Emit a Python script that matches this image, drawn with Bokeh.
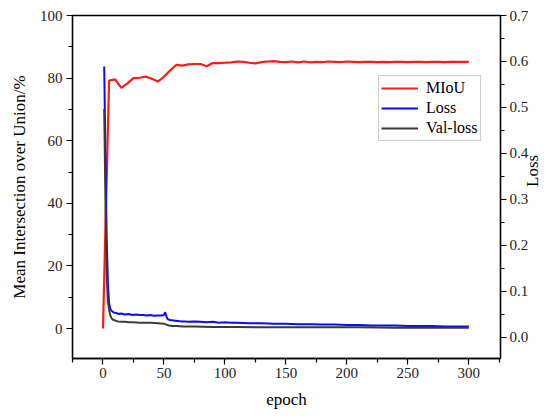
import math
from bokeh.plotting import figure
from bokeh.models import (Range1d, LinearAxis, FixedTicker, PrintfTickFormatter,
                          Legend, LegendItem)
from bokeh.embed import file_html
from bokeh.resources import INLINE

# ---------------- data ----------------
miou_epoch = [0, 5, 10, 15, 20, 25, 30, 35, 40, 45, 50, 55, 60, 65, 70, 75, 80, 85, 90, 95,
              100, 105, 110, 115, 120, 125, 130, 135, 140, 145, 150, 155, 160, 165, 170, 175,
              180, 185, 190, 195, 200, 205, 210, 215, 220, 225, 230, 235, 240, 245, 250, 255,
              260, 265, 270, 275, 280, 285, 290, 295, 300]
miou = [0.0, 79.2, 79.6, 76.9, 78.3, 80.0, 80.1, 80.5, 79.8, 78.9, 80.4, 82.4, 84.2, 84.0,
        84.4, 84.5, 84.5, 83.8, 84.8, 84.8, 84.9, 85.0, 85.3, 85.2, 84.9, 84.7, 85.1, 85.3,
        85.4, 85.2, 85.1, 85.3, 85.0, 85.3, 85.0, 85.2, 85.1, 85.3, 85.2, 85.1, 85.3, 85.2,
        85.1, 85.2, 85.2, 85.1, 85.2, 85.1, 85.2, 85.2, 85.1, 85.2, 85.2, 85.1, 85.2, 85.2,
        85.1, 85.2, 85.2, 85.2, 85.2]

loss_epoch = [1, 2, 3, 4, 5, 6, 7, 8, 9, 11, 13, 15, 18, 21, 24, 27, 30, 33, 36, 39, 42, 45,
              48, 50, 51, 52, 53, 55, 58, 61, 64, 67, 70, 75, 80, 85, 90, 95, 100, 105, 110,
              120, 130, 140, 150, 160, 170, 180, 190, 200, 210, 220, 230, 240, 250, 260, 270,
              280, 290, 300]
loss = [0.589, 0.400, 0.220, 0.120, 0.075, 0.062, 0.058, 0.056, 0.054, 0.053, 0.051, 0.052,
        0.050, 0.051, 0.049, 0.050, 0.049, 0.049, 0.048, 0.049, 0.047, 0.048, 0.048, 0.049,
        0.055, 0.046, 0.040, 0.038, 0.037, 0.036, 0.035, 0.035, 0.034, 0.035, 0.034, 0.033,
        0.034, 0.032, 0.033, 0.032, 0.032, 0.031, 0.031, 0.030, 0.030, 0.029, 0.029, 0.028,
        0.028, 0.027, 0.027, 0.026, 0.026, 0.026, 0.025, 0.025, 0.025, 0.024, 0.024, 0.024]

val_epoch = [1, 2, 3, 4, 5, 6, 7, 8, 10, 12, 15, 18, 21, 25, 30, 35, 40, 45, 50, 52, 54, 57,
             60, 66, 75, 90, 110, 130, 150, 180, 210, 240, 270, 300]
val_loss = [0.497, 0.300, 0.140, 0.080, 0.060, 0.048, 0.042, 0.039, 0.037, 0.035, 0.034,
            0.034, 0.033, 0.033, 0.032, 0.032, 0.032, 0.031, 0.030, 0.028, 0.026, 0.025,
            0.025, 0.024, 0.024, 0.023, 0.023, 0.022, 0.022, 0.022, 0.022, 0.021, 0.021, 0.021]

x_ticks = [0, 50, 100, 150, 200, 250, 300]
x_minor = [-25, 25, 75, 125, 175, 225, 275, 325]
left_ticks = [0, 20, 40, 60, 80, 100]
left_minor = [10, 30, 50, 70, 90]
right_ticks = [0.0, 0.1, 0.2, 0.3, 0.4, 0.5, 0.6, 0.7]
right_minor = [0.05, 0.15, 0.25, 0.35, 0.45, 0.55, 0.65]

FONT = "Liberation Serif"

p = figure(width=554, height=419, output_backend="svg", toolbar_location=None,
           x_range=Range1d(-25, 326), y_range=Range1d(-9.58, 100),
           min_border_left=72, min_border_right=52, min_border_top=15, min_border_bottom=61)
p.extra_y_ranges = {"loss": Range1d(-0.0457, 0.7)}
p.xgrid.visible = False
p.ygrid.visible = False
p.outline_line_color = "black"
p.outline_line_width = 1.3
p.background_fill_color = "white"
p.border_fill_color = "white"


def style_axis(ax, label, ticks, minor):
    ax.axis_label = label
    ax.axis_label_text_font = FONT
    ax.axis_label_text_font_size = "17px"
    ax.axis_label_text_font_style = "normal"
    ax.axis_label_text_color = "black"
    ax.major_label_text_font = FONT
    ax.major_label_text_font_size = "15px"
    ax.major_label_text_color = "#222222"
    ax.axis_line_color = "black"
    ax.axis_line_width = 1.3
    ax.major_tick_line_color = "black"
    ax.minor_tick_line_color = "black"
    ax.major_tick_line_width = 1.2
    ax.minor_tick_line_width = 1.2
    ax.major_tick_in = 0
    ax.major_tick_out = 6
    ax.minor_tick_in = 0
    ax.minor_tick_out = 4
    ax.ticker = FixedTicker(ticks=ticks, minor_ticks=minor)


style_axis(p.xaxis[0], "epoch", x_ticks, x_minor)
p.xaxis[0].major_label_standoff = 3
p.xaxis[0].axis_label_standoff = 9

style_axis(p.yaxis[0], "Mean Intersection over Union/%", left_ticks, left_minor)
p.yaxis[0].major_label_standoff = 4
p.yaxis[0].axis_label_standoff = 8

right = LinearAxis(y_range_name="loss")
style_axis(right, "Loss", right_ticks, right_minor)
right.formatter = PrintfTickFormatter(format="%.1f")
right.major_label_standoff = 3
right.axis_label_standoff = 1
right.axis_label_orientation = math.pi / 2   # reads bottom-to-top, as in the reference
right.axis_label_text_align = "center"
p.add_layout(right, "right")

r_miou = p.line(miou_epoch, miou, line_color="#ff1a1a", line_width=2.2)
r_loss = p.line(loss_epoch, loss, line_color="#0a0aff", line_width=2, y_range_name="loss")
r_val = p.line(val_epoch, val_loss, line_color="#3a3a3a", line_width=2, y_range_name="loss")

legend = Legend(items=[LegendItem(label="MIoU", renderers=[r_miou]),
                       LegendItem(label="Loss", renderers=[r_loss]),
                       LegendItem(label="Val-loss", renderers=[r_val])],
                location=(306, 217))
legend.label_text_font = FONT
legend.label_text_font_size = "16px"
legend.label_text_color = "black"
legend.glyph_width = 37
legend.glyph_height = 20
legend.label_height = 20
legend.label_standoff = 8
legend.spacing = 0
legend.padding = 2
legend.margin = 0
legend.border_line_color = "#9a9a9a"
legend.border_line_width = 1
legend.background_fill_color = "white"
legend.background_fill_alpha = 1.0
p.add_layout(legend, "center")

open("out.html", "w").write(file_html(p, INLINE))
